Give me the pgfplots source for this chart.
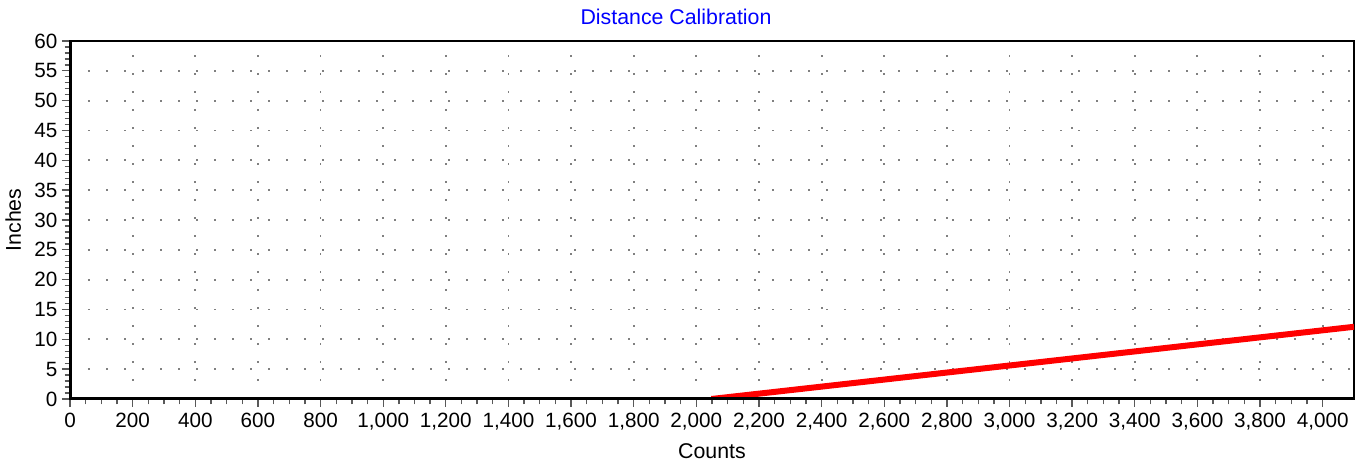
\documentclass[border=0pt]{standalone}
\usepackage{fontspec}
\setmainfont{Liberation Sans}
\usepackage{pgfplots}
\pgfplotsset{compat=1.18}
\begin{document}
\begin{tikzpicture}
\begin{axis}[
    name=ax,
    scale only axis,
    width=963pt, height=268.5pt,
    xmin=0, xmax=4100,
    ymin=0, ymax=60,
    xtick={0,200,...,4000},
    ytick={0,5,...,60},
    minor x tick num=3,
    minor y tick num=4,
    tick align=outside,
    tick pos=left,
    major tick length=6pt,
    minor tick length=4pt,
    every tick/.style={gray!70!black, line width=1pt},
    grid=major,
    major grid style={gray, line width=1.4pt, dash pattern=on 1.8pt off 11.7pt},
    axis line style={black, line width=1.3pt},
    /pgf/number format/.cd, 1000 sep={,}, assume math mode=true,
    /pgfplots/.cd,
    ticklabel style={font=\fontsize{15.5}{18}\selectfont},
    xticklabel style={yshift=-1pt},
    title={Distance Calibration},
    title style={font=\fontsize{16}{19}\selectfont, text=blue, xshift=-27pt, yshift=3pt},
    xlabel={Counts},
    ylabel={Inches},
    label style={font=\fontsize{16}{19}\selectfont},
    xlabel style={yshift=-3pt},
    ylabel style={yshift=3pt},
]
\addplot[red, line width=4.5pt] coordinates {
    (2048,0)
    (4100,12.1)
};
\draw[black, line width=3pt] (rel axis cs:0,1) -- (rel axis cs:0,0) -- (rel axis cs:1,0);
\end{axis}
\pgfresetboundingbox
\path ([xshift=-52.5pt,yshift=-47.25pt]ax.south west) rectangle ([xshift=7.5pt,yshift=30.75pt]ax.north east);
\end{tikzpicture}
\end{document}
